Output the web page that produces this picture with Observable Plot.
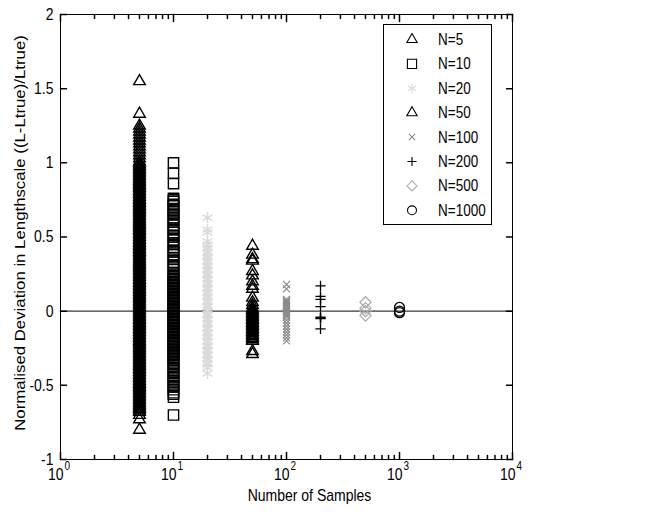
<!DOCTYPE html>
<html><head><meta charset="utf-8">
<script src="https://cdn.jsdelivr.net/npm/d3@7"></script>
<script src="https://cdn.jsdelivr.net/npm/@observablehq/plot@0.6"></script>
<style>
body{margin:0;background:#fff;}
#wrap{position:relative;width:654px;height:515px;background:#fff;}
</style></head>
<body><div id="wrap"></div>
<script>
// ---- data ----
const sampleSizes = [5, 10, 20, 50, 100, 200, 500, 1000];
const seriesLabels = ["N=5", "N=10", "N=20", "N=50", "N=100", "N=200", "N=500", "N=1000"];

const devN5 = [1.55, 1.33, 1.25, 1.23, 1.21, 1.19, 1.17, 1.15, 1.13, 1.11, 1.09, 1.07, 1.05, 1.03, 1.01,
  1.00, 0.99, 0.98, 0.97, 0.96, 0.95, 0.94, 0.93, 0.92, 0.91, 0.90, 0.89, 0.88, 0.87, 0.86, 0.85, 0.84, 0.83, 0.82, 0.81,
  0.80, 0.79, 0.78, 0.77, 0.76, 0.75, 0.74, 0.73, 0.72, 0.71, 0.70, 0.69, 0.68, 0.67, 0.66, 0.65, 0.64, 0.63, 0.62, 0.61,
  0.60, 0.59, 0.58, 0.57, 0.56, 0.55, 0.54, 0.53, 0.52, 0.51, 0.50, 0.49, 0.48, 0.47, 0.46, 0.45, 0.44, 0.43, 0.42, 0.41,
  0.40, 0.39, 0.38, 0.37, 0.36, 0.35, 0.34, 0.33, 0.32, 0.31, 0.30, 0.29, 0.28, 0.27, 0.26, 0.25, 0.24, 0.23, 0.22, 0.21,
  0.20, 0.19, 0.18, 0.17, 0.16, 0.15, 0.14, 0.13, 0.12, 0.11, 0.10, 0.09, 0.08, 0.07, 0.06, 0.05, 0.04, 0.03, 0.02, 0.01,
  0.00, -0.01, -0.02, -0.03, -0.04, -0.05, -0.06, -0.07, -0.08, -0.09, -0.10, -0.11, -0.12, -0.13, -0.14, -0.15, -0.16, -0.17, -0.18, -0.19,
  -0.20, -0.21, -0.22, -0.23, -0.24, -0.25, -0.26, -0.27, -0.28, -0.29, -0.30, -0.31, -0.32, -0.33, -0.34, -0.35, -0.36, -0.37, -0.38, -0.39,
  -0.40, -0.41, -0.42, -0.43, -0.44, -0.45, -0.46, -0.47, -0.48, -0.49, -0.50, -0.51, -0.52, -0.53, -0.54, -0.55, -0.56, -0.57, -0.58, -0.59,
  -0.60, -0.61, -0.62, -0.63, -0.64, -0.65, -0.66, -0.67, -0.68, -0.70, -0.73, -0.80];

const devN10 = [1.00, 0.93, 0.86, 0.76, 0.75, 0.74, 0.72, 0.71, 0.69, 0.68, 0.66, 0.65, 0.63, 0.61, 0.60, 0.58, 0.56, 0.55, 0.53, 0.51,
  0.50, 0.48, 0.46, 0.45, 0.43, 0.41, 0.40, 0.38, 0.36, 0.35, 0.33, 0.31, 0.30, 0.28, 0.26, 0.25, 0.23, 0.22, 0.21,
  0.20, 0.19, 0.18, 0.17, 0.16, 0.15, 0.14, 0.13, 0.12, 0.11, 0.10, 0.09, 0.08, 0.07, 0.06, 0.05, 0.04, 0.03, 0.02, 0.01,
  0.00, -0.01, -0.02, -0.03, -0.04, -0.05, -0.06, -0.07, -0.08, -0.09, -0.10, -0.11, -0.12, -0.13, -0.14, -0.15, -0.16, -0.17, -0.18, -0.19,
  -0.20, -0.21, -0.22, -0.23, -0.24, -0.25, -0.26, -0.27, -0.28, -0.29, -0.30, -0.31, -0.32, -0.33,
  -0.35, -0.36, -0.38, -0.39, -0.41, -0.42, -0.44, -0.45, -0.47, -0.48, -0.50, -0.51, -0.53, -0.55, -0.56, -0.58, -0.70];

const devN20 = [0.63, 0.55, 0.53, 0.47, 0.45, 0.43, 0.42, 0.40, 0.39, 0.37, 0.36, 0.34, 0.33, 0.31, 0.30, 0.28, 0.27, 0.25, 0.24, 0.22,
  0.21, 0.19, 0.18, 0.16, 0.15, 0.13, 0.12, 0.10, 0.09, 0.07, 0.06, 0.04, 0.03, 0.01, 0.00, -0.02, -0.03, -0.05, -0.06, -0.08,
  -0.09, -0.11, -0.12, -0.14, -0.15, -0.17, -0.18, -0.20, -0.21, -0.23, -0.24, -0.26, -0.27, -0.29, -0.30, -0.32, -0.33, -0.35, -0.36, -0.38, -0.42];

const devN50 = [0.44, 0.38, 0.35, 0.34, 0.27, 0.24, 0.20, 0.17, 0.15, 0.09, 0.06, 0.04, 0.02, 0.01, 0.00, -0.01, -0.02, -0.03, -0.04, -0.05,
  -0.06, -0.07, -0.08, -0.09, -0.10, -0.11, -0.12, -0.13, -0.14, -0.15, -0.16, -0.17, -0.18, -0.19, -0.20, -0.27, -0.29];

const devN100 = [0.18, 0.15, 0.08, 0.07, 0.06, 0.05, 0.04, 0.03, 0.02, 0.01, 0.00, -0.01, -0.02, -0.03, -0.04, -0.06, -0.08, -0.10,
  -0.12, -0.14, -0.16, -0.18, -0.20];

const devN200 = [0.17, 0.10, 0.08, 0.03, -0.04, -0.045, -0.05, -0.12];

const devN500 = [0.06, 0.02, 0.00, -0.03];

const devN1000 = [0.025, 0.00, -0.01];

const xMajorTicks = [1, 10, 100, 1000, 10000];
const xTickExponents = ["0", "1", "2", "3", "4"];
const xMinorTicks = [2, 3, 4, 5, 6, 7, 8, 9, 20, 30, 40, 50, 60, 70, 80, 90, 200, 300, 400, 500, 600, 700, 800, 900, 2000, 3000, 4000, 5000, 6000, 7000, 8000, 9000];
const yTicks = [-1, -0.5, 0, 0.5, 1, 1.5, 2];
const yTickLabels = ["-1", "-0.5", "0", "0.5", "1", "1.5", "2"];
const xTitle = "Number of Samples";
const yTitle = "Normalised Deviation in Lengthscale ((L-Ltrue)/Ltrue)";

// ---- styling ----
const seriesValues = [devN5, devN10, devN20, devN50, devN100, devN200, devN500, devN1000];
const seriesSymbols = ["triangle", "square", "asterisk", "triangle", "times", "plus", "diamond2", "circle"];
const seriesColors = ["#000", "#000", "#dadada", "#000", "#8a8a8a", "#000", "#a8a8a8", "#000"];
const seriesR = [4.3, 5.8, 5.3, 4.3, 3.3, 3.4, 5.0, 5.0];
const seriesSW = [1.4, 1.4, 1.4, 1.4, 1.1, 1.3, 1.2, 1.3];
const d3Symbols = {triangle: d3.symbolTriangle, square: d3.symbolSquare, asterisk: d3.symbolAsterisk,
  times: d3.symbolTimes, plus: d3.symbolPlus, diamond2: d3.symbolDiamond2, circle: d3.symbolCircle};

const FONT = "'Liberation Sans', Arial, Helvetica, sans-serif";
const tickShape = {draw(ctx, l) { ctx.moveTo(0, 0); ctx.lineTo(0, -l); }};

const dotMarks = sampleSizes.map((n, i) =>
  Plot.dot(seriesValues[i], {x: () => n, y: d => d, symbol: seriesSymbols[i], r: seriesR[i],
    stroke: seriesColors[i], fill: "none", strokeWidth: seriesSW[i]})
);

const chart = Plot.plot({
  width: 654, height: 515,
  marginLeft: 60, marginRight: 142, marginTop: 14, marginBottom: 56,
  x: {type: "log", domain: [1, 10000], axis: null},
  y: {domain: [-1, 2], axis: null},
  style: {fontFamily: FONT, fontSize: "14px", color: "#000", background: "#fff", overflow: "visible"},
  marks: [
    Plot.ruleY([0], {stroke: "#3a3a3a", strokeWidth: 1.2}),
    ...dotMarks,
    Plot.frame({stroke: "#000", strokeWidth: 1}),
    // inward ticks
    Plot.vector(yTicks, {y: d => d, frameAnchor: "left", length: 6, rotate: 90, anchor: "start", shape: tickShape, stroke: "#000"}),
    Plot.vector(yTicks, {y: d => d, frameAnchor: "right", length: 6, rotate: -90, anchor: "start", shape: tickShape, stroke: "#000"}),
    Plot.vector(xMajorTicks, {x: d => d, frameAnchor: "bottom", length: 7, rotate: 0, anchor: "start", shape: tickShape, stroke: "#000"}),
    Plot.vector(xMajorTicks, {x: d => d, frameAnchor: "top", length: 7, rotate: 180, anchor: "start", shape: tickShape, stroke: "#000"}),
    Plot.vector(xMinorTicks, {x: d => d, frameAnchor: "bottom", length: 4, rotate: 0, anchor: "start", shape: tickShape, stroke: "#000"}),
    Plot.vector(xMinorTicks, {x: d => d, frameAnchor: "top", length: 4, rotate: 180, anchor: "start", shape: tickShape, stroke: "#000"}),
    // tick labels
    Plot.text(yTicks, {y: d => d, frameAnchor: "left", text: (d, i) => yTickLabels[i], textAnchor: "end", dx: -7, fontSize: 14, fill: "#000"}),
    Plot.text(xMajorTicks, {x: d => d, frameAnchor: "bottom", text: () => "10", textAnchor: "end", dx: 3, dy: 20, fontSize: 14, fill: "#000"}),
    Plot.text(xMajorTicks, {x: d => d, frameAnchor: "bottom", text: (d, i) => xTickExponents[i], textAnchor: "start", dx: 4, dy: 10, fontSize: 10, fill: "#000"}),
    // axis titles
    Plot.text([xTitle], {frameAnchor: "bottom", text: d => d, textAnchor: "middle", dx: 23, dy: 41, fontSize: 14, fill: "#000"}),
    Plot.text([yTitle], {frameAnchor: "left", text: d => d, textAnchor: "middle", rotate: -90, dx: -40, dy: -4, fontSize: 14, fill: "#000"})
  ]
});

// the reference is stretched vertically on screen: stretch text along screen y about its anchor
d3.select(chart).selectAll("text").each(function() {
  const t = this.getAttribute("transform");
  if (!t) return;
  const rotated = /rotate\(/.test(t);
  this.setAttribute("transform", t + (rotated ? " scale(1.2,1)" : " scale(1,1.2)"));
});

const wrap = document.getElementById("wrap");
wrap.appendChild(chart);

// legend box (top right, inside the axes)
const leg = d3.select(wrap).append("svg")
  .attr("width", 110).attr("height", 202)
  .style("position", "absolute").style("left", "383px").style("top", "24px")
  .style("font-family", FONT).style("font-size", "13.5px");
leg.append("rect").attr("x", 0.5).attr("y", 0.5).attr("width", 108).attr("height", 200)
  .attr("fill", "#fff").attr("stroke", "#000");
seriesLabels.forEach((lab, i) => {
  const g = leg.append("g").attr("transform", `translate(29,${15.5 + i * 24.4})`);
  g.append("path").attr("d", d3.symbol(d3Symbols[seriesSymbols[i]], Math.PI * seriesR[i] * seriesR[i] * 0.8)())
    .attr("fill", "none").attr("stroke", seriesColors[i]).attr("stroke-width", 1.1);
  g.append("text").attr("transform", "translate(26,5.5) scale(1,1.2)").attr("fill", "#000").text(lab);
});
</script>
</body></html>
